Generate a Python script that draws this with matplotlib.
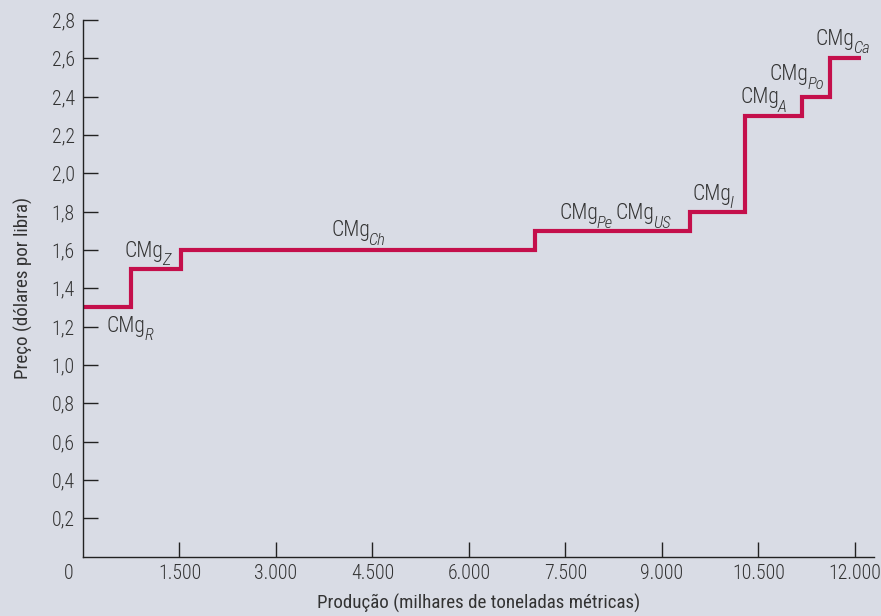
import matplotlib
matplotlib.use("Agg")
import matplotlib.pyplot as plt
from matplotlib import font_manager

# Step curve: quantity breakpoints (thousand metric tons) and marginal cost levels
breaks = [0, 750, 1520, 7030, 9430, 10290, 11180, 11610, 12090]
prices = [1.3, 1.5, 1.6, 1.7, 1.8, 2.3, 2.4, 2.6]

# Country labels (subscript, x left, baseline y)
label_subs = ["R", "Z", "Ch", "Pe", "US", "I", "A", "Po", "Ca"]
label_x = [373, 653, 3860, 7410, 8278, 9470, 10222, 10679, 11390]
label_y = [1.174, 1.566, 1.671, 1.761, 1.761, 1.862, 2.367, 2.485, 2.672]

x_ticks = [1500, 3000, 4500, 6000, 7500, 9000, 10500, 12000]
x_ticklabels = ["1.500", "3.000", "4.500", "6.000", "7.500", "9.000", "10.500", "12.000"]
y_ticks = [0.2, 0.4, 0.6, 0.8, 1.0, 1.2, 1.4, 1.6, 1.8, 2.0, 2.2, 2.4, 2.6, 2.8]
y_ticklabels = [f"{v:.1f}".replace(".", ",") for v in y_ticks]

BG = "#d9dce5"
LINE = "#c40f4b"
TXT = "#333333"

# condensed font, close to the original's
names = {f.name for f in font_manager.fontManager.ttflist}
FONT = "Roboto Condensed" if "Roboto Condensed" in names else "DejaVu Sans"
plt.rcParams["font.family"] = [FONT, "DejaVu Sans"]
plt.rcParams["font.weight"] = "light"

fig = plt.figure(figsize=(8.81, 6.16), dpi=100)
fig.patch.set_facecolor(BG)
ax = fig.add_axes([0.0942, 0.0964, 0.8974, 0.8711])
ax.set_facecolor(BG)

# build step path from breaks/prices
xs, ys = [], []
for i, p in enumerate(prices):
    xs += [breaks[i], breaks[i + 1]]
    ys += [p, p]
ax.plot(xs, ys, color=LINE, lw=3.0, solid_joinstyle="miter", solid_capstyle="butt")

# "CMg" + italic subscript hung off its bottom-right corner
for sub, lx, ly in zip(label_subs, label_x, label_y):
    t = ax.text(lx, ly, "CMg", fontsize=15.5, color=TXT, ha="left", va="baseline")
    ax.annotate(sub, xy=(1, 0), xycoords=t, xytext=(-1.2, -2.6), textcoords="offset points",
                fontsize=12, fontstyle="italic", color=TXT, ha="left", va="baseline")

ax.set_xlim(0, 12290)
ax.set_ylim(0, 2.8)
for s in ["top", "right"]:
    ax.spines[s].set_visible(False)
for s in ["left", "bottom"]:
    ax.spines[s].set_color("#222222")
    ax.spines[s].set_linewidth(1.0)

ax.set_xticks(x_ticks)
ax.set_xticklabels(x_ticklabels)
ax.set_yticks(y_ticks)
ax.set_yticklabels(y_ticklabels)
ax.tick_params(axis="both", direction="in", length=11, width=1.0, color="#222222",
               labelsize=14.3, labelcolor=TXT)
ax.tick_params(axis="x", pad=5)
ax.tick_params(axis="y", pad=6)
ax.text(-220, -0.09, "0", fontsize=14.3, color=TXT, ha="center", va="center")

ax.set_xlabel("Produção (milhares de toneladas métricas)", fontsize=13.7, color=TXT, labelpad=8)
ax.set_ylabel("Preço (dólares por libra)", fontsize=13.7, color=TXT, labelpad=13)

fig.savefig("out.png", dpi=100, facecolor=BG)
